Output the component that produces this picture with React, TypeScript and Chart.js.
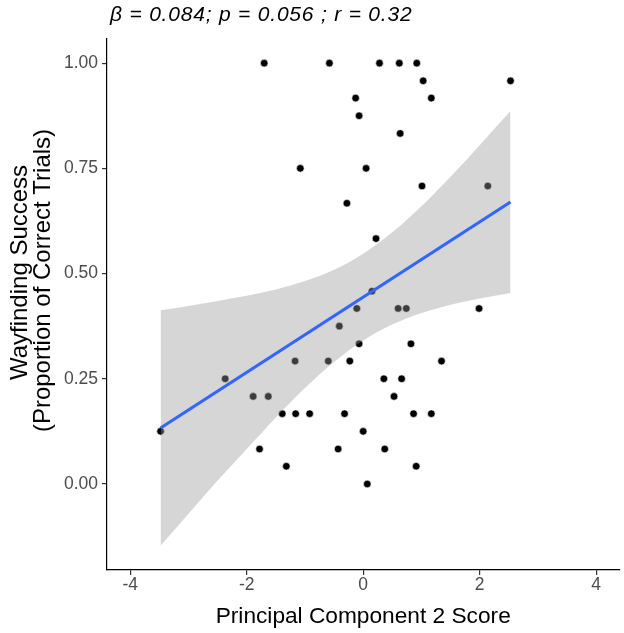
import { useEffect, useRef } from "react";
import { Chart, registerables } from "chart.js";

Chart.register(...registerables);

// ---- data ----
const pointX = [
  -1.7, -0.58, 0.28, 0.62, 0.92, 1.03, 2.53, -0.13, 1.17, -0.07,
  0.635, -1.08, 0.05, 1.01, 2.14, -0.28, 0.22, 0.15, -0.11, 0.6,
  0.74, 1.99, -0.41, -0.07, 0.82, -1.17, -0.6, -0.23, 1.345, -2.37,
  0.355, 0.66, -1.89, -1.63, 0.53, -1.39, -1.16, -0.92, -0.32, 0.865,
  1.17, -3.48, 0.0, -1.78, -0.43, 0.37, -1.32, 0.91, 0.07,
];
const pointY = [
  1.0, 1.0, 1.0, 1.0, 1.0, 0.958, 0.958, 0.917, 0.917, 0.875,
  0.833, 0.75, 0.75, 0.708, 0.708, 0.667, 0.583, 0.458, 0.417, 0.417,
  0.417, 0.417, 0.375, 0.333, 0.333, 0.292, 0.292, 0.292, 0.292, 0.25,
  0.25, 0.25, 0.208, 0.208, 0.208, 0.167, 0.167, 0.167, 0.167, 0.167,
  0.167, 0.125, 0.125, 0.083, 0.083, 0.083, 0.042, 0.042, 0.0,
];
const fitX = [-3.48, 2.53];
const fitY = [0.133, 0.67];
const bandX = [-3.48, -3, -2.5, -2, -1.5, -1, -0.5, 0, 0.5, 1, 1.5, 2, 2.53];
const bandUpper = [0.413, 0.423, 0.435, 0.447, 0.462, 0.482, 0.509, 0.547, 0.598, 0.66, 0.73, 0.805, 0.886];
const bandLower = [-0.147, -0.071, 0.008, 0.083, 0.158, 0.228, 0.29, 0.341, 0.379, 0.406, 0.426, 0.441, 0.454];
const xTicks = [-4, -2, 0, 2, 4];
const yTicks = [0, 0.25, 0.5, 0.75, 1];
const titleText = "β = 0.084; p = 0.056 ; r = 0.32";
const xTitle = "Principal Component 2 Score";
const yTitleLines = ["Wayfinding Success", "(Proportion of Correct Trials)"];

const FONT = '"Liberation Sans", Arial, sans-serif';

const textPlugin = {
  id: "customText",
  afterDraw(chart: any) {
    const ctx = chart.ctx as CanvasRenderingContext2D;
    ctx.save();
    ctx.fillStyle = "#000";
    ctx.textBaseline = "middle";
    ctx.textAlign = "left";
    ctx.font = `italic 21px ${FONT}`;
    (ctx as any).letterSpacing = "0.8px";
    ctx.fillText(titleText, 110, 15);
    (ctx as any).letterSpacing = "0px";

    ctx.font = `24px ${FONT}`;
    ctx.textAlign = "center";
    const xs = [20, 43];
    const ys = [272.5, 280.5];
    yTitleLines.forEach((line, i) => {
      ctx.save();
      ctx.translate(xs[i], ys[i]);
      ctx.rotate(-Math.PI / 2);
      ctx.fillText(line, 0, 0);
      ctx.restore();
    });
    ctx.restore();
  },
};

export default function App() {
  const ref = useRef<HTMLCanvasElement | null>(null);

  useEffect(() => {
    if (!ref.current) return;
    Chart.defaults.font.family = FONT;
    const chart = new Chart(ref.current, {
      type: "scatter",
      data: {
        datasets: [
          {
            type: "scatter",
            data: pointX.map((x, i) => ({ x, y: pointY[i] })),
            backgroundColor: "#000000",
            borderColor: "#ffffff",
            borderWidth: 0.6,
            pointRadius: 3.8,
            order: 3,
          },
          {
            type: "line",
            data: bandX.map((x, i) => ({ x, y: bandUpper[i] })),
            borderWidth: 0,
            borderColor: "rgba(0,0,0,0)",
            pointRadius: 0,
            fill: "+1",
            backgroundColor: "rgba(153,153,153,0.4)",
            cubicInterpolationMode: "monotone",
            order: 2,
          },
          {
            type: "line",
            data: bandX.map((x, i) => ({ x, y: bandLower[i] })),
            borderWidth: 0,
            borderColor: "rgba(0,0,0,0)",
            pointRadius: 0,
            fill: false,
            cubicInterpolationMode: "monotone",
            order: 2,
          },
          {
            type: "line",
            data: fitX.map((x, i) => ({ x, y: fitY[i] })),
            borderColor: "#3366FF",
            borderWidth: 3.2,
            pointRadius: 0,
            fill: false,
            order: 1,
          },
        ],
      } as any,
      options: {
        animation: false,
        responsive: true,
        maintainAspectRatio: false,
        layout: { padding: { top: 39, right: 4, left: 0, bottom: 0 } },
        plugins: {
          legend: { display: false },
          tooltip: { enabled: false },
          title: { display: false },
        },
        scales: {
          x: {
            type: "linear",
            min: -4.4,
            max: 4.4,
            afterBuildTicks: (s: any) => {
              s.ticks = xTicks.map((v) => ({ value: v }));
            },
            afterFit: (s: any) => {
              s.height = 63;
            },
            grid: {
              display: true,
              drawOnChartArea: false,
              drawTicks: true,
              tickLength: 5,
              color: "#333333",
              lineWidth: 1.2,
            },
            border: { display: true, color: "#000000", width: 1.2 },
            ticks: {
              color: "#4D4D4D",
              font: { size: 17.5 },
              padding: 0,
              maxRotation: 0,
              callback: (v: any) => String(v),
            },
            title: {
              display: true,
              text: xTitle,
              color: "#000000",
              font: { size: 22.7 },
              padding: { top: 0, bottom: 2.4 },
            },
          },
          y: {
            type: "linear",
            min: -0.2045,
            max: 1.0574,
            afterBuildTicks: (s: any) => {
              s.ticks = yTicks.map((v) => ({ value: v }));
            },
            afterFit: (s: any) => {
              s.width = 107;
            },
            grid: {
              display: true,
              drawOnChartArea: false,
              drawTicks: true,
              tickLength: 5,
              color: "#333333",
              lineWidth: 1.2,
            },
            border: { display: true, color: "#000000", width: 1.2 },
            ticks: {
              color: "#4D4D4D",
              font: { size: 17.5 },
              padding: 4,
              callback: (v: any) => Number(v).toFixed(2),
            },
            title: { display: false },
          },
        },
      } as any,
      plugins: [textPlugin],
    });
    return () => chart.destroy();
  }, []);

  return (
    <div
      style={{
        position: "absolute",
        left: 0,
        top: 0,
        width: 624,
        height: 633,
        background: "#ffffff",
      }}
    >
      <canvas ref={ref} />
    </div>
  );
}
